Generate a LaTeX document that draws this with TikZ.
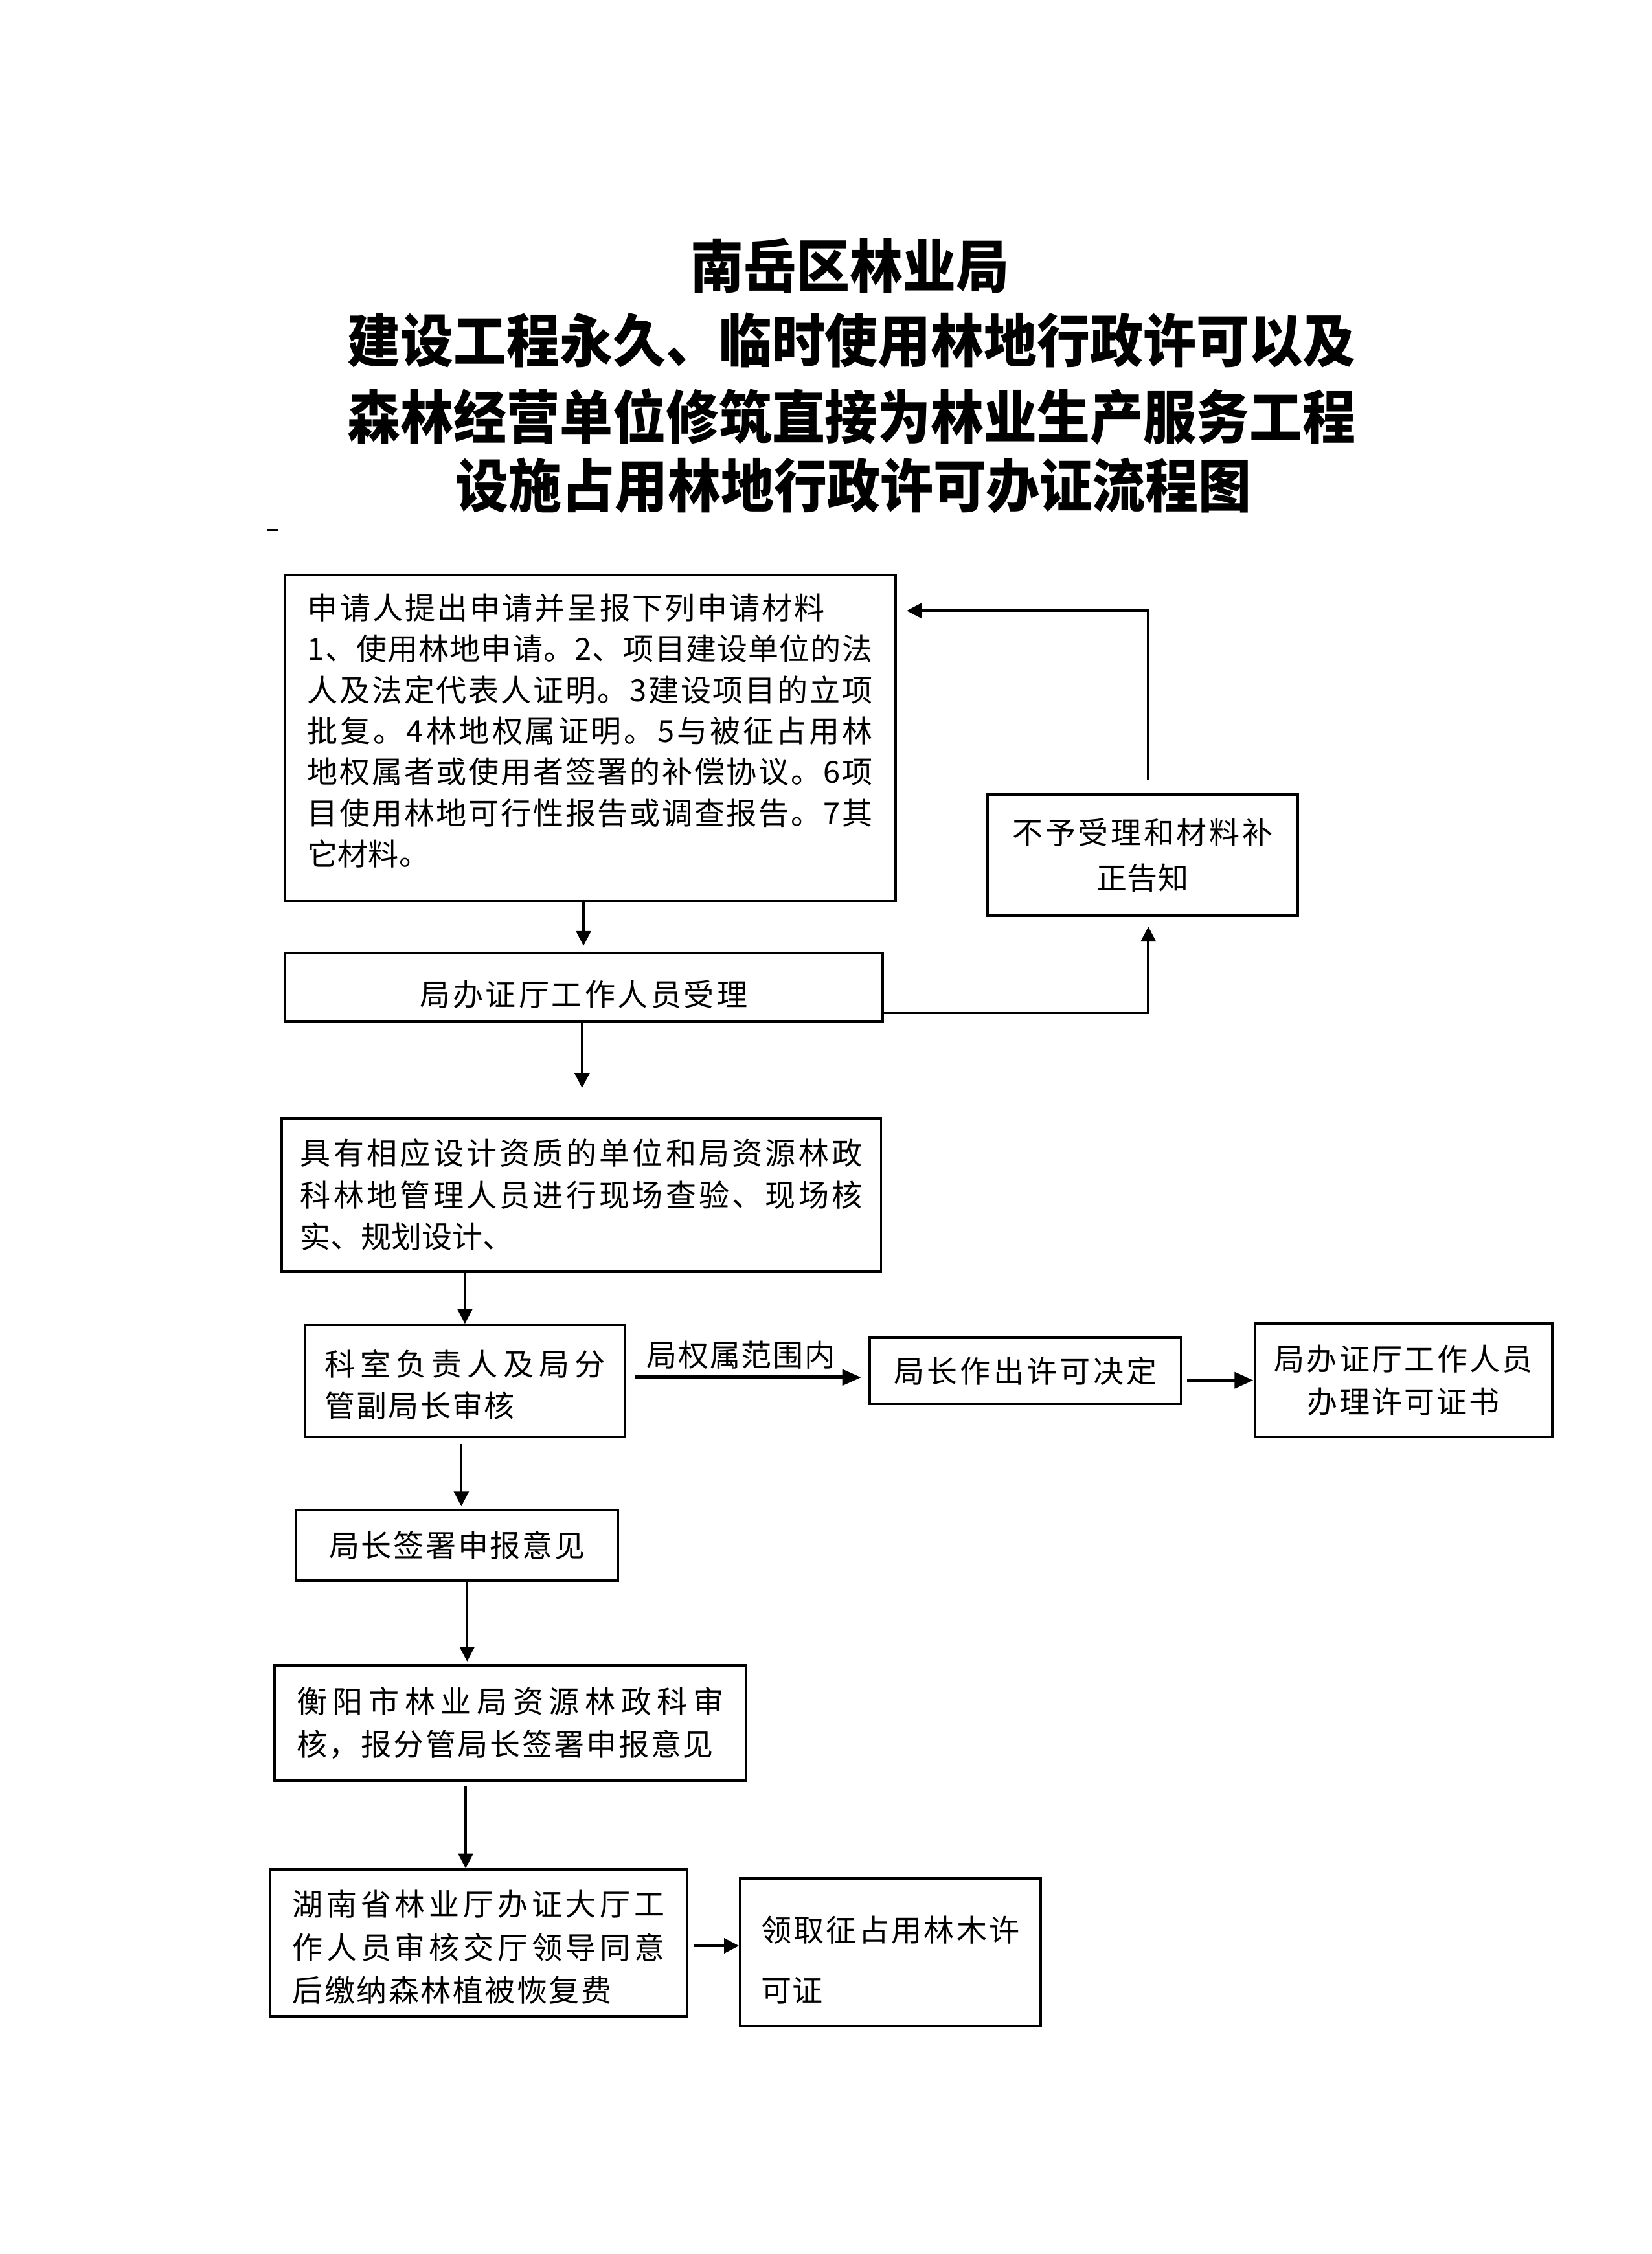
\documentclass[tikz,border=0pt]{standalone}
\usepackage{fontspec}
\usetikzlibrary{arrows.meta}
\newfontfamily\cjk{Noto Sans CJK SC}
\newfontfamily\cjktitle{Noto Sans CJK SC}[FakeStretch=0.92]
\newlength\dpx
\setlength\dpx{0.5333pt}
\newcommand\bodyat[1]{\cjk\fontsize{11.3pt}{#1}\selectfont}
\newcommand\lift[2]{\raisebox{#1}[\height][\depth]{#2}}
\makeatletter
\newcommand\jl[2]{\hbox to #1{\@tfor\jl@t:=#2\do{\jl@t\hfil}\unskip}}
\makeatother
\tikzset{
  box/.style={draw, line width=0.9pt, inner sep=0pt, anchor=center},
  arr/.style={-{Triangle[length=5.5pt,width=5.5pt]}, line width=0.85pt},
  arrb/.style={-{Triangle[length=7pt,width=5.8pt]}, line width=1.4pt},
  ttl/.style={inner sep=0pt, font={\cjktitle\bfseries\fontsize{21.4pt}{26pt}\selectfont}}
}
\begin{document}
\begin{tikzpicture}[x=0.5333pt,y=-0.5333pt]
\fill[white] (0,0) rectangle (1149,1568.5);
\useasboundingbox (0,0) rectangle (1149,1568.5);

% title
\node[ttl] (t1) at (591.5,185) {南岳区林业局};
\node[ttl] (t2) at (592.5,237) {建设工程永久、临时使用林地行政许可以及};
\node[ttl] (t3) at (592.5,290) {森林经营单位修筑直接为林业生产服务工程};
\node[ttl] (t4) at (594,338) {设施占用林地行政许可办证流程图};

\draw[line width=0.7pt] (185.6,368.6) -- (193.8,368.6);

% boxes
\node[box, minimum width=425*\dpx, minimum height=227*\dpx, font=\bodyat{15.2pt}] (b1) at (410.5,513.5)
 {\lift{5\dpx}{\vbox{\hbox{\jl{360\dpx}{申请人提出申请并呈报下列申请材料}}
  \hbox{\jl{393\dpx}{1、使用林地申请。2、项目建设单位的法}}
  \hbox{\jl{393\dpx}{人及法定代表人证明。3建设项目的立项}}
  \hbox{\jl{393\dpx}{批复。4林地权属证明。5与被征占用林}}
  \hbox{\jl{393\dpx}{地权属者或使用者签署的补偿协议。6项}}
  \hbox{\jl{393\dpx}{目使用林地可行性报告或调查报告。7其}}
  \hbox{它材料。}}}};

\node[box, minimum width=216*\dpx, minimum height=84*\dpx, align=center, font=\bodyat{16.9pt}] (rj) at (795,595)
 {\jl{181\dpx}{不予受理和材料补}\\ \jl{64\dpx}{正告知}};

\node[box, minimum width=416*\dpx, minimum height=48*\dpx, font=\bodyat{15pt}] (ac) at (406,687)
 {\lift{-5\dpx}{\jl{228\dpx}{局办证厅工作人员受理}}};

\coordinate (g1) at (405,757);

\node[box, minimum width=417*\dpx, minimum height=107*\dpx, align=left, font=\bodyat{15.5pt}] (sv) at (404.5,831.5)
 {\jl{391\dpx}{具有相应设计资质的单位和局资源林政}\\
  \jl{391\dpx}{科林地管理人员进行现场查验、现场核}\\
  实、规划设计、};

\node[box, minimum width=223*\dpx, minimum height=78*\dpx, font=\bodyat{15.2pt}] (rv) at (323.5,961)
 {\lift{-2.5\dpx}{\vbox{\hbox{\jl{195\dpx}{科室负责人及局分}}\hbox{\jl{132\dpx}{管副局长审核}}}}};

\node[inner sep=0pt, font=\bodyat{15pt}] (lbl) at (515.5,943) {\jl{131\dpx}{局权属范围内}};

\node[box, minimum width=217*\dpx, minimum height=46*\dpx, font=\bodyat{15pt}] (dc) at (713.5,954)
 {\jl{183\dpx}{局长作出许可决定}};

\node[box, minimum width=207*\dpx, minimum height=79*\dpx, align=center, font=\bodyat{16pt}] (is) at (976.5,960.5)
 {\jl{180\dpx}{局办证厅工作人员}\\ \jl{134\dpx}{办理许可证书}};

\node[box, minimum width=224*\dpx, minimum height=49*\dpx, font=\bodyat{15pt}] (sg) at (318,1075.5)
 {\jl{178\dpx}{局长签署申报意见}\hspace{20\dpx}};

\node[box, minimum width=328*\dpx, minimum height=80*\dpx, align=left, font=\bodyat{16pt}] (ct) at (355,1199)
 {\jl{297\dpx}{衡阳市林业局资源林政科审}\\ \jl{290\dpx}{核，报分管局长签署申报意见}};

\node[box, minimum width=290*\dpx, minimum height=102*\dpx, font=\bodyat{16pt}] (pv) at (333,1352)
 {\lift{-3\dpx}{\vbox{\hbox{\jl{259\dpx}{湖南省林业厅办证大厅工}}
  \hbox{\jl{259\dpx}{作人员审核交厅领导同意}}
  \hbox{\jl{222\dpx}{后缴纳森林植被恢复费}}}}};

\node[box, minimum width=209*\dpx, minimum height=103*\dpx, font=\bodyat{22.4pt}] (gt) at (619.5,1358.5)
 {\lift{-5.5\dpx}{\vbox{\hbox{\jl{180\dpx}{领取征占用林木许}}\hbox{\jl{43\dpx}{可证}}}}};

% connectors
\draw[arr, shorten >=4*\dpx] (b1.south -| ac.north) -- (ac.north);
\draw[arr, shorten >=7*\dpx] ([yshift=-18*\dpx]ac.east) -| ([xshift=4*\dpx]rj.south);
\draw[arr, shorten <=9*\dpx, shorten >=7*\dpx] ([xshift=4*\dpx]rj.north) |- ([yshift=88.5*\dpx]b1.east);
\draw[arr] (ac.south -| g1) -- (g1);
\draw[arr] (sv.south -| rv.north) -- (rv.north);
\draw[arrb, shorten <=6*\dpx, shorten >=5*\dpx] ([yshift=-4.5*\dpx]dc.west -| rv.east) -- ([yshift=-4.5*\dpx]dc.west);
\draw[arrb, shorten <=3*\dpx] ([yshift=-6.5*\dpx]dc.east) -- ([yshift=-6.5*\dpx]dc.east -| is.west);
\draw[arr, shorten <=4*\dpx, shorten >=2*\dpx] ([xshift=-2.5*\dpx]rv.south) -- ([xshift=-2.5*\dpx]rv.south |- sg.north);
\draw[arr, shorten >=2*\dpx] ([xshift=7*\dpx]sg.south) -- ([xshift=7*\dpx]sg.south |- ct.north);
\draw[arr, shorten <=3*\dpx] ([xshift=-31*\dpx]ct.south) -- ([xshift=-31*\dpx]ct.south |- pv.north);
\draw[arr, shorten <=4*\dpx] ([yshift=-2*\dpx]pv.east) -- ([yshift=-2*\dpx]pv.east -| gt.west);
\end{tikzpicture}
\end{document}
